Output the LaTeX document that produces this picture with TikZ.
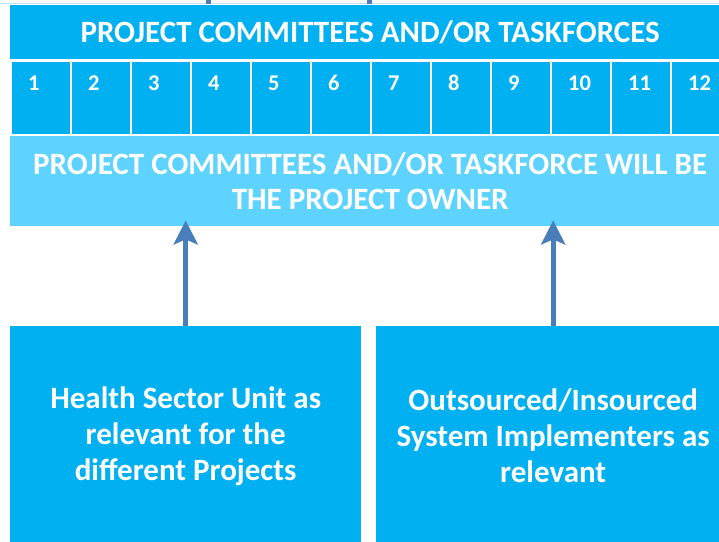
\documentclass[tikz,border=0pt]{standalone}
\usepackage{fontspec}
\setmainfont{Carlito}
\usetikzlibrary{arrows.meta}
\definecolor{boxblue}{HTML}{00B0F0}
\definecolor{ownerblue}{HTML}{5ED3FF}
\definecolor{arrowblue}{HTML}{4A7EBB}
\definecolor{rulegrey}{HTML}{BFE3F2}
\begin{document}
\begin{tikzpicture}[x=1pt, y=-1pt,
		band/.style={fill=boxblue, text=white, inner sep=0pt, align=center,
			font=\bfseries\fontsize{31}{35}\selectfont},
		unitbox/.style={band, anchor=north west, minimum height=220pt,
			font=\bfseries\fontsize{31}{36}\selectfont},
		cellbox/.style={fill=boxblue, draw=white, line width=1.5pt, inner sep=0pt,
			minimum width=60pt, minimum height=74pt},
		numlabel/.style={text=white, inner sep=0pt, font=\bfseries\fontsize{22.5}{24}\selectfont},
		upline/.style={arrowblue, line width=5pt, shorten >=-6pt,
			-{Stealth[length=24pt, width=24pt, inset=5pt]}}]
	\useasboundingbox (0,0) rectangle (719,541);
	\clip (0,0) rectangle (719,541);
	% bits cut off at the top
	\draw[rulegrey, line width=1pt] (0,3) -- (719,3);
	\fill[arrowblue] (206,0) rectangle (211,4);
	\fill[arrowblue] (367,0) rectangle (372,4);
	% committees row
	\node[band, anchor=north west, minimum width=720pt, minimum height=54pt] (header) at (10,5)
		{PROJECT COMMITTEES AND/OR TASKFORCES};
	\foreach \i in {1,...,12} {
		\node[cellbox, anchor=north west] (c\i) at ({10+60*(\i-1)},60) {};
		\node[numlabel, anchor=west] (n\i) at ({28+60*(\i-1)},83) {\i};
	}
	\node[band, fill=ownerblue, anchor=north west, minimum width=720pt, minimum height=90pt] (owner) at (10,136)
		{PROJECT COMMITTEES AND/OR TASKFORCE WILL BE\\THE PROJECT OWNER};
	% units below
	\node[unitbox, minimum width=351pt] (unit) at (10,326)
		{Health Sector Unit as\\relevant for the\\different Projects};
	\node[unitbox, minimum width=354pt] (impl) at (376,326)
		{Outsourced/Insourced\\System Implementers as\\relevant};
	\draw[upline] (unit.north) -- (unit.north |- owner.south);
	\draw[upline] (impl.north) -- (impl.north |- owner.south);
\end{tikzpicture}
\end{document}
